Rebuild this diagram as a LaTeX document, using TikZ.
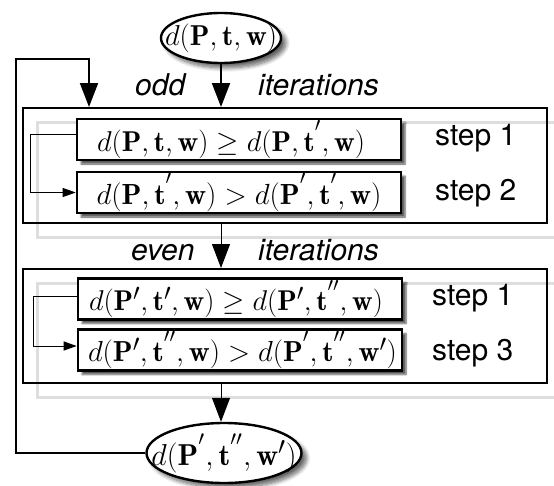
\documentclass[tikz,border=0pt]{standalone}
\usepackage{graphicx}
\usepackage{fontspec}
\newfontfamily\helv{TeX Gyre Heros}
\usetikzlibrary{arrows.meta,shapes.geometric,shadows.blur,calc}
\newcommand{\mfont}{\fontsize{24.88}{30}\selectfont}
\newcommand{\lfont}{\fontsize{30}{34}\selectfont\helv}
\newcommand{\eqfit}[3]{\hspace*{#1pt}\resizebox{#2pt}{!}{$#3$}}
\begin{document}
\begin{tikzpicture}[x=1pt,y=-1pt,
  outer/.style={draw, line width=2pt},
  ghost/.style={draw=black!13, line width=3pt},
  shad/.style={blur shadow={shadow xshift=4pt, shadow yshift=-4pt, shadow blur steps=6, shadow opacity=65}},
  eshad/.style={blur shadow={shadow xshift=5pt, shadow yshift=-5pt, shadow blur steps=8, shadow blur radius=4pt, shadow opacity=60}},
  stepbox/.style={draw, line width=2.6pt, fill=white, shad, text width=304pt, align=left, inner xsep=10pt, inner ysep=0pt, minimum height=41pt, font=\mfont},
  ell/.style={ellipse, draw, line width=2.4pt, fill=white, eshad, inner sep=0pt, font=\mfont},
  lbl/.style={anchor=base west, inner sep=0pt, font=\lfont},
  big/.style={-{Triangle[length=24pt,width=18pt]}},
  small/.style={-{Triangle[length=13pt,width=9pt]}}]
\useasboundingbox (0,0) rectangle (554,485);

% ghost frames
\draw[ghost] (37,122) rectangle (561,237);
\draw[ghost] (37,283) rectangle (561,397);
% outer boxes
\node[outer, minimum width=524pt, minimum height=115pt, inner sep=0pt] (A) at (285,165.5) {};
\node[outer, minimum width=524pt, minimum height=114pt, inner sep=0pt] (B) at (285,326) {};

% ellipses
\node[ell, minimum width=120pt, minimum height=50pt] (e1) at (221,38) {\makebox[0pt]{\resizebox{112pt}{!}{$d(\mathbf{P},\mathbf{t},\mathbf{w})$}}};
\node[ell, minimum width=155pt, minimum height=60pt] (e2) at (224,453) {\makebox[0pt]{\resizebox{145pt}{!}{$d(\mathbf{P}^{'},\mathbf{t}^{''},\mathbf{w}')$}}};

% step boxes
\node[stepbox] (a1) at (239,139.5) {\eqfit{10}{268}{d(\mathbf{P},\mathbf{t},\mathbf{w}) \geq d(\mathbf{P},\mathbf{t}^{'},\mathbf{w})}};
\node[stepbox] (a2) at (239,192.5) {\eqfit{9.5}{285}{d(\mathbf{P},\mathbf{t}^{'},\mathbf{w}) > d(\mathbf{P}^{'},\mathbf{t}^{'},\mathbf{w})}};
\node[stepbox] (b1) at (240,299) {\eqfit{1}{294}{d(\mathbf{P}',\mathbf{t}',\mathbf{w}) \geq d(\mathbf{P}',\mathbf{t}^{''},\mathbf{w})}};
\node[stepbox] (b2) at (240,350) {\eqfit{0}{309}{d(\mathbf{P}',\mathbf{t}^{''},\mathbf{w}) > d(\mathbf{P}^{'},\mathbf{t}^{''},\mathbf{w}')}};

% labels
\node[lbl] (odd) at (135,95) {\itshape odd};
\node[lbl] (it1) at (258,95) {\itshape iterations};
\node[lbl] (even) at (131,260) {\itshape even};
\node[lbl] (it2) at (258,260) {\itshape iterations};
\node[lbl] (s1) at (435,145) {step 1};
\node[lbl] (s2) at (435,200) {step 2};
\node[lbl] (s3) at (432,305) {step 1};
\node[lbl] (s4) at (432,360) {step 3};

% connectors
\coordinate (lp) at (16,59);
\coordinate (lq) at (89,59);
\draw[line width=2pt, big] (e1.south) -- (e1.south |- A.north);
\draw[line width=2pt, big] (e2.west) -| (lp) -- (lq) -- (lq |- A.north);
\draw[line width=1pt, big] (e1.south |- A.south) -- (e1.south |- B.north);
\draw[line width=1pt, big] (e1.south |- B.south) -- (e1.south |- e2.north);
\draw[line width=1pt, small] ([yshift=5pt]a1.west) -- ++(-45,0) |- (a2.west);
\draw[line width=1pt, small] ([yshift=3pt]b1.west) -- ++(-43,0) |- ([yshift=4pt]b2.west);
\end{tikzpicture}
\end{document}
